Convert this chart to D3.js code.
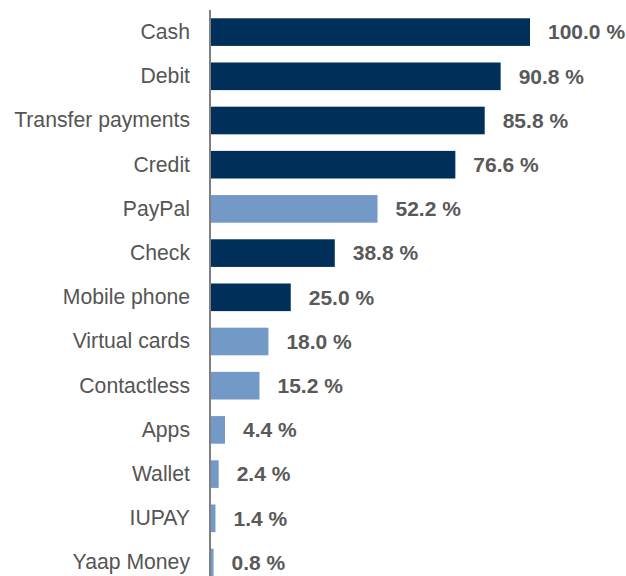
<!DOCTYPE html>
<html><head><meta charset="utf-8">
<script src="https://cdn.jsdelivr.net/npm/d3@7"></script>
<style>body{margin:0;background:#fff}svg{display:block}</style>
</head><body>
<svg id="c" width="626" height="576"></svg>
<script>
const categories = ["Cash","Debit","Transfer payments","Credit","PayPal","Check","Mobile phone","Virtual cards","Contactless","Apps","Wallet","IUPAY","Yaap Money"];
const values = [100.0,90.8,85.8,76.6,52.2,38.8,25.0,18.0,15.2,4.4,2.4,1.4,0.8];
const highlight = [false,false,false,false,true,false,false,true,true,true,true,true,true];

const svg = d3.select("#c");
const x0 = 211;
const x = d3.scaleLinear().domain([0,100]).range([x0, 530]);
const y = d3.scaleBand().domain(categories).range([10, 10+13*44.2]).paddingInner(0.375).paddingOuter(0.1875);

const data = categories.map((c,i)=>({c, v:values[i], h:highlight[i]}));

svg.selectAll("rect.bar").data(data).join("rect")
  .attr("x", x(0)).attr("y", d=>y(d.c))
  .attr("width", d=>x(d.v)-x(0)).attr("height", y.bandwidth())
  .attr("fill", d=>d.h ? "#7399C7" : "#00305A");

svg.append("line").attr("x1",210).attr("x2",210).attr("y1",10).attr("y2",576)
  .attr("stroke","#808080").attr("stroke-width",2);

svg.selectAll("text.cat").data(data).join("text")
  .attr("x",190).attr("y",d=>y(d.c)+y.bandwidth()/2).attr("dy","0.33em")
  .attr("text-anchor","end").attr("font-family","Liberation Sans, Arial, sans-serif")
  .attr("font-size",21.2).attr("fill","#555555").text(d=>d.c);

svg.selectAll("text.val").data(data).join("text")
  .attr("x",d=>x(d.v)+18).attr("y",d=>y(d.c)+y.bandwidth()/2).attr("dy","0.35em")
  .attr("font-family","Liberation Sans, Arial, sans-serif").attr("font-weight","bold")
  .attr("font-size",21).attr("fill","#595959").text(d=>d3.format(".1f")(d.v)+" %");
</script>
</body></html>
